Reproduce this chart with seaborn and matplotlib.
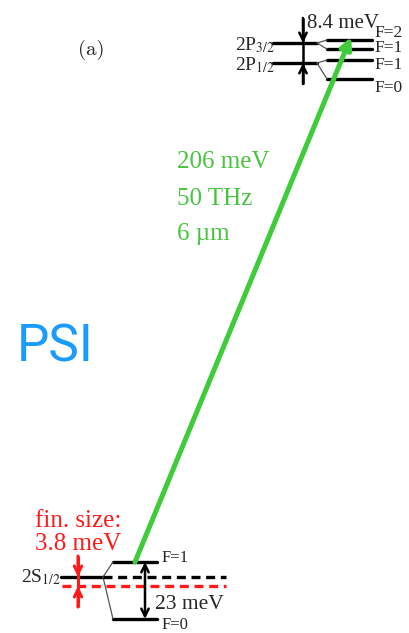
import numpy as np
import pandas as pd
import matplotlib
matplotlib.use("Agg")
import matplotlib.pyplot as plt
import seaborn as sns

sns.set_theme(style="white")
plt.rcParams["font.family"] = ["Liberation Serif", "DejaVu Serif"]
plt.rcParams["mathtext.fontset"] = "stix"

# ---- schematic level diagram (y in diagram units, growing downward) ----
p_fine_labels = ["2P$_{3/2}$", "2P$_{1/2}$"]
p_fine_y = [43, 63]
p_hfs_labels = ["F=2", "F=1", "F=1", "F=0"]
p_hfs_y = [40, 49, 60, 79]
p_hfs_parent = [0, 0, 1, 1]
p_fine_split = "8.4 meV"

s_label = "2S$_{1/2}$"
s_level_y = 577
s_finite_size_y = 586
s_hfs_labels = ["F=1", "F=0"]
s_hfs_y = [562, 619]
s_hfs_split = "23 meV"
finite_size_text = ["fin. size:", "3.8 meV"]

transition_text = ["206 meV", "50 THz", "6 µm"]
panel_label = "(a)"
lab_label = "PSI"

GREEN = "#3fcc3a"
GREEN_TXT = "#48c43f"
RED = "#ff1a1a"
BLUE = "#1a9bff"

# x extents of the drawn level groups
XP_FINE = (273, 317)
XP_HFS = (327, 372)
XS_FINE = (61, 103)
XS_HFS = (113, 157)
XS_DASH_END = 226

rows = []
def seg(name, kind, xs, ys):
    for x, y in zip(xs, ys):
        rows.append(dict(seg=name, kind=kind, x=x, y=y))

for i, y in enumerate(p_fine_y):
    seg(f"pf{i}", "level", XP_FINE, (y, y))
for i, (y, par) in enumerate(zip(p_hfs_y, p_hfs_parent)):
    seg(f"ph{i}", "level", XP_HFS, (y, y))
    seg(f"pc{i}", "link", (XP_FINE[1], XP_HFS[0]), (p_fine_y[par], y))
seg("s", "level", XS_FINE, (s_level_y, s_level_y))
for i, y in enumerate(s_hfs_y):
    seg(f"sh{i}", "level", XS_HFS, (y, y))
    seg(f"sc{i}", "link", (XS_FINE[1], XS_HFS[0]), (s_level_y, y))
seg("sdash", "dash", (XS_FINE[1], XS_DASH_END), (s_level_y, s_level_y))
seg("rdash", "rdash", (XS_FINE[0] + 1, XS_DASH_END), (s_finite_size_y, s_finite_size_y))
df = pd.DataFrame(rows)

fig = plt.figure(figsize=(4.10, 6.33), dpi=100)
ax = fig.add_axes([0, 0, 1, 1])

common = dict(x="x", y="y", units="seg", estimator=None, sort=False, legend=False, ax=ax)
sns.lineplot(data=df[df.kind == "level"], color="black", lw=2.4, **common)
sns.lineplot(data=df[df.kind == "link"], color="#555555", lw=0.9, **common)
sns.lineplot(data=df[df.kind == "dash"], color="black", lw=2.4, **common)
sns.lineplot(data=df[df.kind == "rdash"], color=RED, lw=2.4, **common)
# dashed style for the 2S reference lines
for line in ax.lines:
    xdata = np.asarray(line.get_xdata())
    if len(xdata) == 2 and xdata[1] == XS_DASH_END:
        line.set_linestyle((0, (2.7, 1.7)))

ax.set_xlim(0, 410)
ax.set_ylim(633, 0)
ax.set_axis_off()

# laser transition 2S(F=1) -> 2P
ax.annotate("", xy=(351, 37), xytext=(XS_HFS[0] + 22, s_hfs_y[0]),
            arrowprops=dict(arrowstyle="-|>,head_length=0.55,head_width=0.28",
                            color=GREEN, lw=3.6, shrinkA=0, shrinkB=0))

def splitting_arrows(x, y_top, y_bot, top_from, bot_to, color, lw):
    # a continuous vertical bar with heads pointing inward onto both levels
    ax.plot([x, x], [top_from, bot_to], color=color, lw=lw, solid_capstyle="butt")
    style = "->,head_length=0.45,head_width=0.22"
    ax.annotate("", xy=(x, y_top), xytext=(x, top_from),
                arrowprops=dict(arrowstyle=style, color=color, lw=lw,
                                shrinkA=0, shrinkB=0))
    ax.annotate("", xy=(x, y_bot), xytext=(x, bot_to),
                arrowprops=dict(arrowstyle=style, color=color, lw=lw,
                                shrinkA=0, shrinkB=0))

# 2P fine structure splitting
splitting_arrows(303, p_fine_y[0], p_fine_y[1], 18, 84, "black", 1.8)
# finite size shift of 2S
splitting_arrows(78, s_level_y, s_finite_size_y, 556, 607, RED, 2.2)

# 2S hyperfine splitting arrow
ax.annotate("", xy=(145, s_hfs_y[1]), xytext=(145, s_hfs_y[0]),
            arrowprops=dict(arrowstyle="<->,head_length=0.45,head_width=0.22",
                            color="black", lw=1.8, shrinkA=0, shrinkB=0))

# text
ax.text(91, 50, panel_label, fontsize=15, family=["cmr10", "DejaVu Serif"],
        ha="center", va="center")
ax.text(17, 362, lab_label, fontsize=37, family=["Roboto", "DejaVu Sans"],
        color=BLUE, ha="left", va="baseline")

ax.text(307, 28, p_fine_split, fontsize=15, ha="left", va="baseline")
for lab, base in zip(p_fine_labels, [50, 70]):
    ax.text(275, base, lab, fontsize=14, ha="right", va="baseline")
for lab, y in zip(p_hfs_labels, [33, 48, 65, 88]):
    ax.text(374, y, lab, fontsize=12.5, ha="left", va="center")

for lab, y in zip(transition_text, [168, 205, 240]):
    ax.text(177, y, lab, fontsize=18, color=GREEN_TXT, ha="left", va="baseline")

for lab, y in zip(finite_size_text, [527, 550]):
    ax.text(35, y, lab, fontsize=18, color=RED, ha="left", va="baseline")

ax.text(61, 582, s_label, fontsize=14, ha="right", va="baseline")
ax.text(155, 609, s_hfs_split, fontsize=15.5, ha="left", va="baseline")
for lab, y in zip(s_hfs_labels, [558, 625]):
    ax.text(162, y, lab, fontsize=12, ha="left", va="center")

fig.savefig("out.png", dpi=100)
